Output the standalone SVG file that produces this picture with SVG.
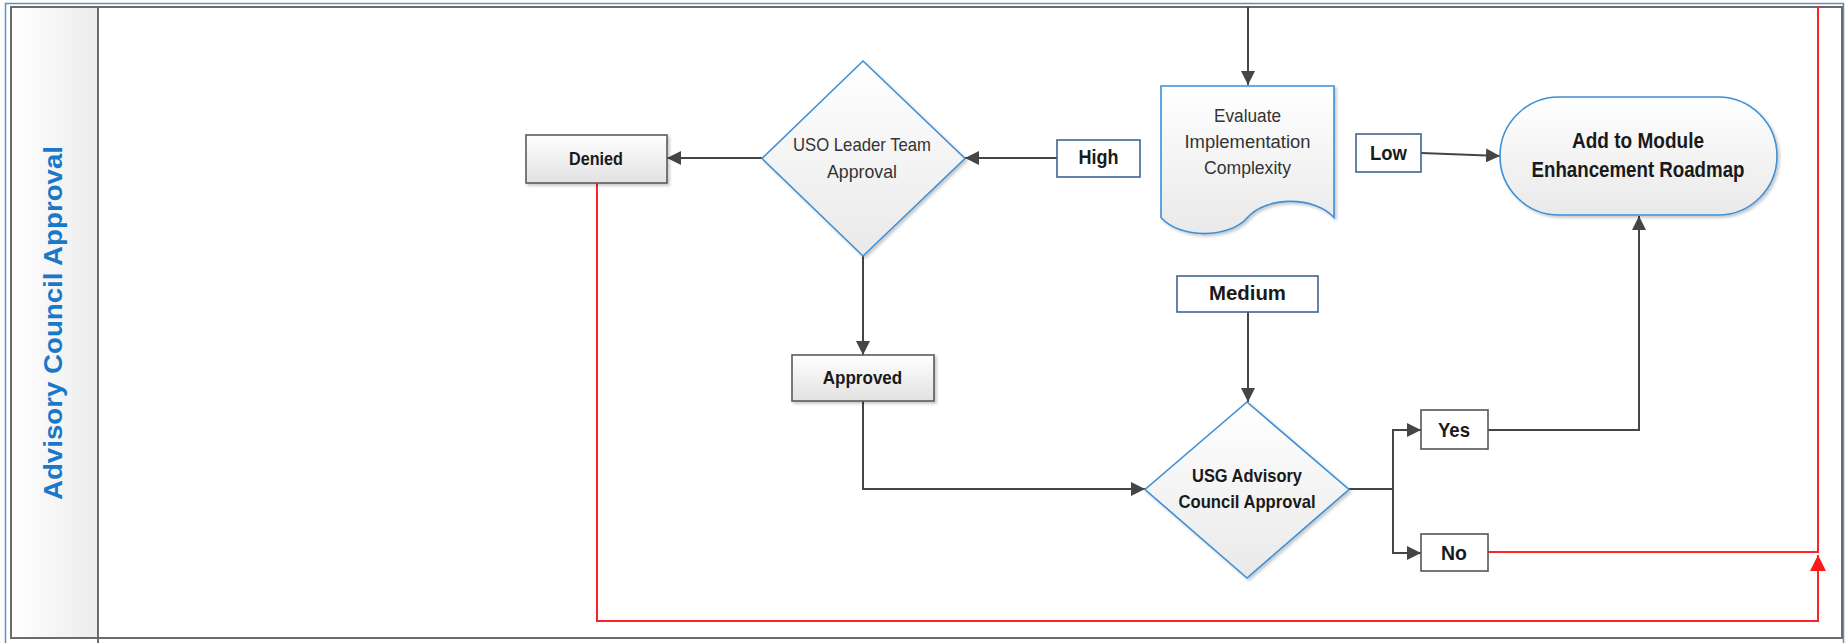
<svg xmlns="http://www.w3.org/2000/svg" width="1845" height="643" viewBox="0 0 1845 643">
<defs>
<style>
.t{font-family:"Liberation Sans",Arial,sans-serif;fill:#1a1a1a;text-anchor:middle}
.b{font-weight:bold}
.r{fill:#333}
.conn{fill:none;stroke:#454545;stroke-width:2}
.red{fill:none;stroke:#ff2424;stroke-width:2}
.blueshape{stroke:#3d8fd6;stroke-width:1.6;fill:url(#g)}
.graybox{stroke:#5a5a5a;stroke-width:1.6;fill:url(#g2)}
.lbl{stroke:#3f6590;stroke-width:1.6;fill:#fff}
.lbl2{stroke:#555;stroke-width:1.6;fill:#fff}
</style>
<linearGradient id="g" x1="0" y1="0" x2="0" y2="1"><stop offset="0" stop-color="#ffffff"/><stop offset="1" stop-color="#e9e9e9"/></linearGradient>
<linearGradient id="g2" x1="0" y1="0" x2="0" y2="1"><stop offset="0" stop-color="#ffffff"/><stop offset="1" stop-color="#e2e2e2"/></linearGradient>
<linearGradient id="gh" x1="0" y1="0" x2="1" y2="0"><stop offset="0" stop-color="#ffffff"/><stop offset="1" stop-color="#ececec"/></linearGradient>
<filter id="sh" x="-10%" y="-10%" width="130%" height="130%"><feDropShadow dx="2" dy="2" stdDeviation="1.5" flood-color="#000" flood-opacity="0.22"/></filter>
<marker id="ah" viewBox="0 0 14 14" refX="14" refY="7" markerWidth="14" markerHeight="14" markerUnits="userSpaceOnUse" orient="auto"><path d="M0,0 L14,7 L0,14 z" fill="#454545"/></marker>
<marker id="ahr" viewBox="0 0 16 16" refX="16" refY="8" markerWidth="16" markerHeight="16" markerUnits="userSpaceOnUse" orient="auto"><path d="M0,0 L16,8 L0,16 z" fill="#ff1a1a"/></marker>
</defs>
<rect width="1845" height="643" fill="#fff"/>
<g id="frame">
<rect x="5.5" y="3.5" width="1838" height="648" fill="none" stroke="#5b8fd0" stroke-width="1.5"/>
<rect x="11" y="7" width="1831" height="631" fill="none" stroke="#6b6b6b" stroke-width="2"/>
<rect x="12" y="8" width="86" height="629" fill="url(#gh)"/>
<line x1="98" y1="7" x2="98" y2="643" stroke="#6b6b6b" stroke-width="2"/>
<line x1="11" y1="638" x2="1842" y2="638" stroke="#6b6b6b" stroke-width="2"/>
<text class="b" transform="translate(62,323) rotate(-90)" font-family="Liberation Sans,Arial,sans-serif" font-size="26" fill="#1a78c8" text-anchor="middle" textLength="354" lengthAdjust="spacingAndGlyphs">Advisory Council Approval</text>
</g>
<g id="connectors">
<path class="conn" d="M1248,7 V85" marker-end="url(#ah)"/>
<path class="conn" d="M762,158 H667" marker-end="url(#ah)"/>
<path class="conn" d="M1057,158 H965" marker-end="url(#ah)"/>
<path class="conn" d="M1421,153 L1500,156" marker-end="url(#ah)"/>
<path class="conn" d="M863,256 V355" marker-end="url(#ah)"/>
<path class="conn" d="M863,401 V489 H1145" marker-end="url(#ah)"/>
<path class="conn" d="M1248,312 V402" marker-end="url(#ah)"/>
<path class="conn" d="M1349,489 H1393 V430 H1421" marker-end="url(#ah)"/>
<path class="conn" d="M1349,489 H1393 V553 H1421" marker-end="url(#ah)"/>
<path class="conn" d="M1488,430 H1639 V216" marker-end="url(#ah)"/>
<path class="red" d="M1488,552 H1818 V6"/>
<path class="red" d="M597,183 V621 H1818 V555" marker-end="url(#ahr)"/>
</g>
<g id="denied">
<rect class="graybox" x="526" y="135" width="141" height="48" filter="url(#sh)"/>
<text class="t b" x="596" y="165" font-size="18" textLength="54" lengthAdjust="spacingAndGlyphs">Denied</text>
</g>
<g id="uso-leader">
<polygon class="blueshape" points="863,61 965,158.5 863,256 762,158.5" filter="url(#sh)"/>
<text class="t r" x="862" y="151" font-size="18.5" textLength="138" lengthAdjust="spacingAndGlyphs">USO Leader Team</text>
<text class="t r" x="862" y="177.5" font-size="18.5" textLength="70" lengthAdjust="spacingAndGlyphs">Approval</text>
</g>
<g id="high">
<rect class="lbl" x="1057" y="140" width="83" height="37"/>
<text class="t b" x="1098.5" y="164" font-size="20" textLength="40" lengthAdjust="spacingAndGlyphs">High</text>
</g>
<g id="evaluate">
<path class="blueshape" d="M1161,86 H1334 V217.5 C1315,196 1266,196 1247.5,217.5 C1229,239 1180,239 1161,217.5 Z" filter="url(#sh)"/>
<text class="t r" x="1247.5" y="122" font-size="18" textLength="67" lengthAdjust="spacingAndGlyphs">Evaluate</text>
<text class="t r" x="1247.5" y="148" font-size="18" textLength="126" lengthAdjust="spacingAndGlyphs">Implementation</text>
<text class="t r" x="1247.5" y="174" font-size="18" textLength="87" lengthAdjust="spacingAndGlyphs">Complexity</text>
</g>
<g id="low">
<rect class="lbl" x="1356" y="134" width="65" height="38"/>
<text class="t b" x="1388.5" y="159.5" font-size="20" textLength="37" lengthAdjust="spacingAndGlyphs">Low</text>
</g>
<g id="roadmap">
<rect class="blueshape" x="1500" y="97" width="277" height="118" rx="59" ry="59" filter="url(#sh)"/>
<text class="t b" x="1638" y="147.5" font-size="21.5" textLength="132" lengthAdjust="spacingAndGlyphs">Add to Module</text>
<text class="t b" x="1638" y="176.5" font-size="21.5" textLength="213" lengthAdjust="spacingAndGlyphs">Enhancement Roadmap</text>
</g>
<g id="approved">
<rect class="graybox" x="792" y="355" width="142" height="46" filter="url(#sh)"/>
<text class="t b" x="862.5" y="383.5" font-size="19" textLength="79.5" lengthAdjust="spacingAndGlyphs">Approved</text>
</g>
<g id="medium">
<rect class="lbl" x="1177" y="276" width="141" height="36"/>
<text class="t b" x="1247.5" y="300" font-size="20.5" textLength="77" lengthAdjust="spacingAndGlyphs">Medium</text>
</g>
<g id="usg-advisory">
<polygon class="blueshape" points="1247,402 1349,489.5 1247,578 1145,489.5" filter="url(#sh)"/>
<text class="t b" x="1247" y="481.5" font-size="18.5" textLength="110" lengthAdjust="spacingAndGlyphs">USG Advisory</text>
<text class="t b" x="1247" y="507.5" font-size="18.5" textLength="137" lengthAdjust="spacingAndGlyphs">Council Approval</text>
</g>
<g id="yes">
<rect class="lbl2" x="1421" y="410" width="67" height="39"/>
<text class="t b" x="1454" y="436.5" font-size="20" textLength="32" lengthAdjust="spacingAndGlyphs">Yes</text>
</g>
<g id="no">
<rect class="lbl2" x="1421" y="534" width="67" height="37"/>
<text class="t b" x="1454" y="559.5" font-size="20" textLength="26" lengthAdjust="spacingAndGlyphs">No</text>
</g>
</svg>
